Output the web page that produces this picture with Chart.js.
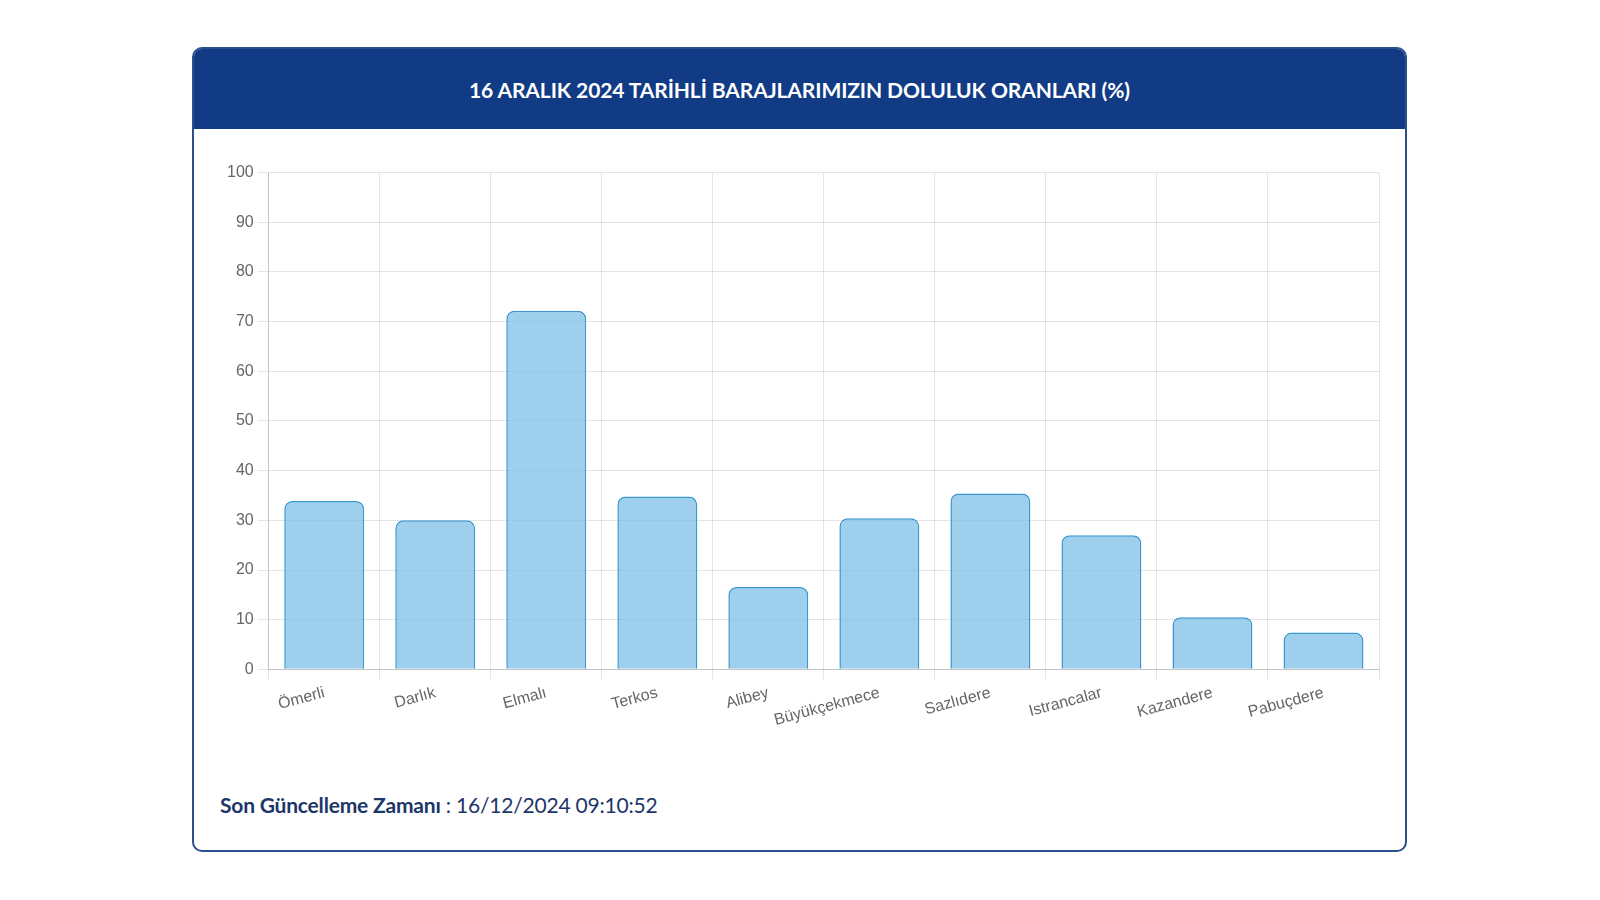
<!DOCTYPE html>
<html>
<head>
<meta charset="utf-8">
<script src="https://cdn.jsdelivr.net/npm/chart.js@4.4.0/dist/chart.umd.min.js"></script>
<style>
  html, body { margin: 0; padding: 0; background: #ffffff; width: 1600px; height: 900px; overflow: hidden; }
  #card {
    position: absolute; left: 192px; top: 47px; width: 1211px; height: 801px;
    border: 2px solid #2c4f8c; border-radius: 10px; background: #fff; overflow: hidden;
  }
  #header {
    position: absolute; left: 0; top: 0; right: 0; height: 80px; background: #113c85;
    color: #fff; font-family: "Lato", "Open Sans", sans-serif; font-weight: 700; font-size: 21px;
    display: flex; align-items: center; justify-content: center; letter-spacing: -0.1px;
  }
  #chartWrap { position: absolute; left: 18px; top: 110px; width: 1190px; height: 575px; }
  #footer {
    position: absolute; left: 26px; top: 743px; font-family: "Lato", "Open Sans", sans-serif;
    font-size: 21px; color: #1d3669; letter-spacing: -0.2px;
  }
  #footer b { font-weight: 700; }
</style>
</head>
<body>
<script>
const titleText = "16 ARALIK 2024 TARİHLİ BARAJLARIMIZIN DOLULUK ORANLARI (%)";
const categories = ["Ömerli", "Darlık", "Elmalı", "Terkos", "Alibey", "Büyükçekmece", "Sazlıdere", "Istrancalar", "Kazandere", "Pabuçdere"];
const fillRates = [33.9, 30.0, 72.2, 34.8, 16.6, 30.4, 35.4, 27.0, 10.5, 7.4];
const yTicks = [0, 10, 20, 30, 40, 50, 60, 70, 80, 90, 100];
const updateLabel = "Son Güncelleme Zamanı";
const updateTime = "16/12/2024 09:10:52";
</script>
<div id="card">
  <div id="header"></div>
  <div id="chartWrap"><canvas id="c"></canvas></div>
  <div id="footer"><b></b> : <span></span></div>
</div>
<script>
document.getElementById('header').textContent = titleText;
document.querySelector('#footer b').textContent = updateLabel;
document.querySelector('#footer span').textContent = updateTime;

new Chart(document.getElementById('c'), {
  type: 'bar',
  data: {
    labels: categories,
    datasets: [{
      data: fillRates,
      backgroundColor: 'rgba(120, 190, 230, 0.72)',
      borderColor: '#3a97cf',
      borderWidth: 1.5,
      borderRadius: 8,
      borderSkipped: 'bottom'
    }]
  },
  options: {
    responsive: true,
    maintainAspectRatio: false,
    animation: false,
    layout: { padding: { left: 11, right: 23, top: 10, bottom: 0 } },
    plugins: { legend: { display: false }, tooltip: { enabled: false } },
    scales: {
      x: {
        grid: { color: 'rgba(0,0,0,0.1)', tickLength: 10 },
        border: { color: 'rgba(0,0,0,0.15)' },
        ticks: { color: '#666', font: { family: 'Liberation Sans', size: 16 }, minRotation: 15, maxRotation: 15, padding: 4 }
      },
      y: {
        min: 0, max: 100,
        afterBuildTicks: (axis) => { axis.ticks = yTicks.map(v => ({ value: v })); },
        grid: { color: 'rgba(0,0,0,0.1)', tickLength: 11 },
        border: { color: 'rgba(0,0,0,0.15)' },
        ticks: { color: '#666', font: { family: 'Liberation Sans', size: 16 }, padding: 4 }
      }
    }
  }
});
</script>
</body>
</html>
